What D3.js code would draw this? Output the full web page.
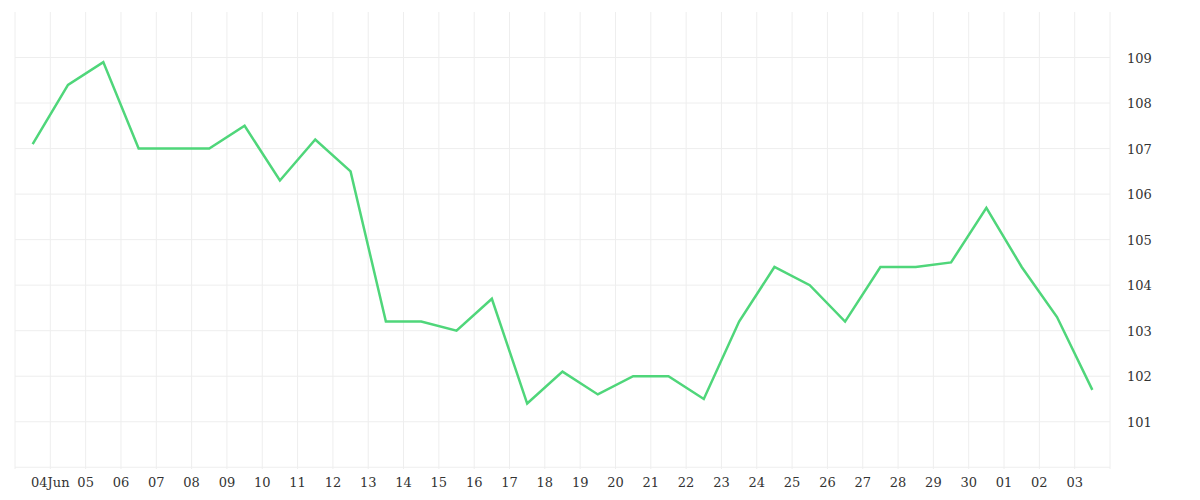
<!DOCTYPE html>
<html><head><meta charset="utf-8">
<script src="https://cdn.jsdelivr.net/npm/d3@7"></script>
<style>body{margin:0;background:#fff}</style>
</head><body><div id="chart"></div>
<script>
// daily values, sampled at noon from 3 Jun to 3 Jul
const startDate = "2024-06-03";
const values = [107.1, 108.4, 108.9, 107.0, 107.0, 107.0, 107.5, 106.3, 107.2, 106.5,
  103.2, 103.2, 103.0, 103.7, 101.4, 102.1, 101.6, 102.0, 102.0, 101.5,
  103.2, 104.4, 104.0, 103.2, 104.4, 104.4, 104.5, 105.7, 104.4, 103.3, 101.7];
const yTicks = [101, 102, 103, 104, 105, 106, 107, 108, 109];
const gridY = [100, 101, 102, 103, 104, 105, 106, 107, 108, 109];

const width = 1200, height = 500;
const padL = 15, padR = 1110, padT = 12, padB = 465;

const t0 = new Date(startDate + "T00:00:00");
const day = 864e5;
const points = values.map((v, i) => ({ date: new Date(+t0 + i * day + day / 2), v }));

const x = d3.scaleTime().domain([t0, new Date(+t0 + 31 * day)]).range([padL, padR]);
const y = d3.scaleLinear().domain([100.05, 110]).range([padB, padT]);

const svg = d3.select("#chart").append("svg").attr("width", width).attr("height", height)
  .style("font-family", "'DejaVu Serif', serif");

const days = d3.range(32).map(i => new Date(+t0 + i * day));

// vertical grid
svg.append("g").selectAll("line").data(days).join("line")
  .attr("x1", d => x(d)).attr("x2", d => x(d))
  .attr("y1", padT).attr("y2", padB + 4)
  .attr("stroke", "#eee");

// horizontal grid
svg.append("g").selectAll("line").data(gridY).join("line")
  .attr("x1", padL).attr("x2", padR)
  .attr("y1", d => y(d)).attr("y2", d => y(d))
  .attr("stroke", "#eee");

// x labels (skip domain ends)
const fmt = d => (d.getDate() === 4 && d.getMonth() === 5) ? "04Jun" : d3.timeFormat("%d")(d);
svg.append("g").selectAll("text").data(days.slice(1, -1)).join("text")
  .attr("x", d => x(d)).attr("y", padB + 22)
  .attr("text-anchor", "middle").attr("font-size", 13).attr("fill", "#333")
  .text(fmt);

// y labels
svg.append("g").selectAll("text").data(yTicks).join("text")
  .attr("x", padR + 17).attr("y", d => y(d) + 5)
  .attr("font-size", 13).attr("fill", "#333")
  .text(d => d);

const line = d3.line().x(d => x(d.date)).y(d => y(d.v));
svg.append("path").datum(points)
  .attr("d", line).attr("fill", "none")
  .attr("stroke", "#4fd67a").attr("stroke-width", 2.5);
</script></body></html>
